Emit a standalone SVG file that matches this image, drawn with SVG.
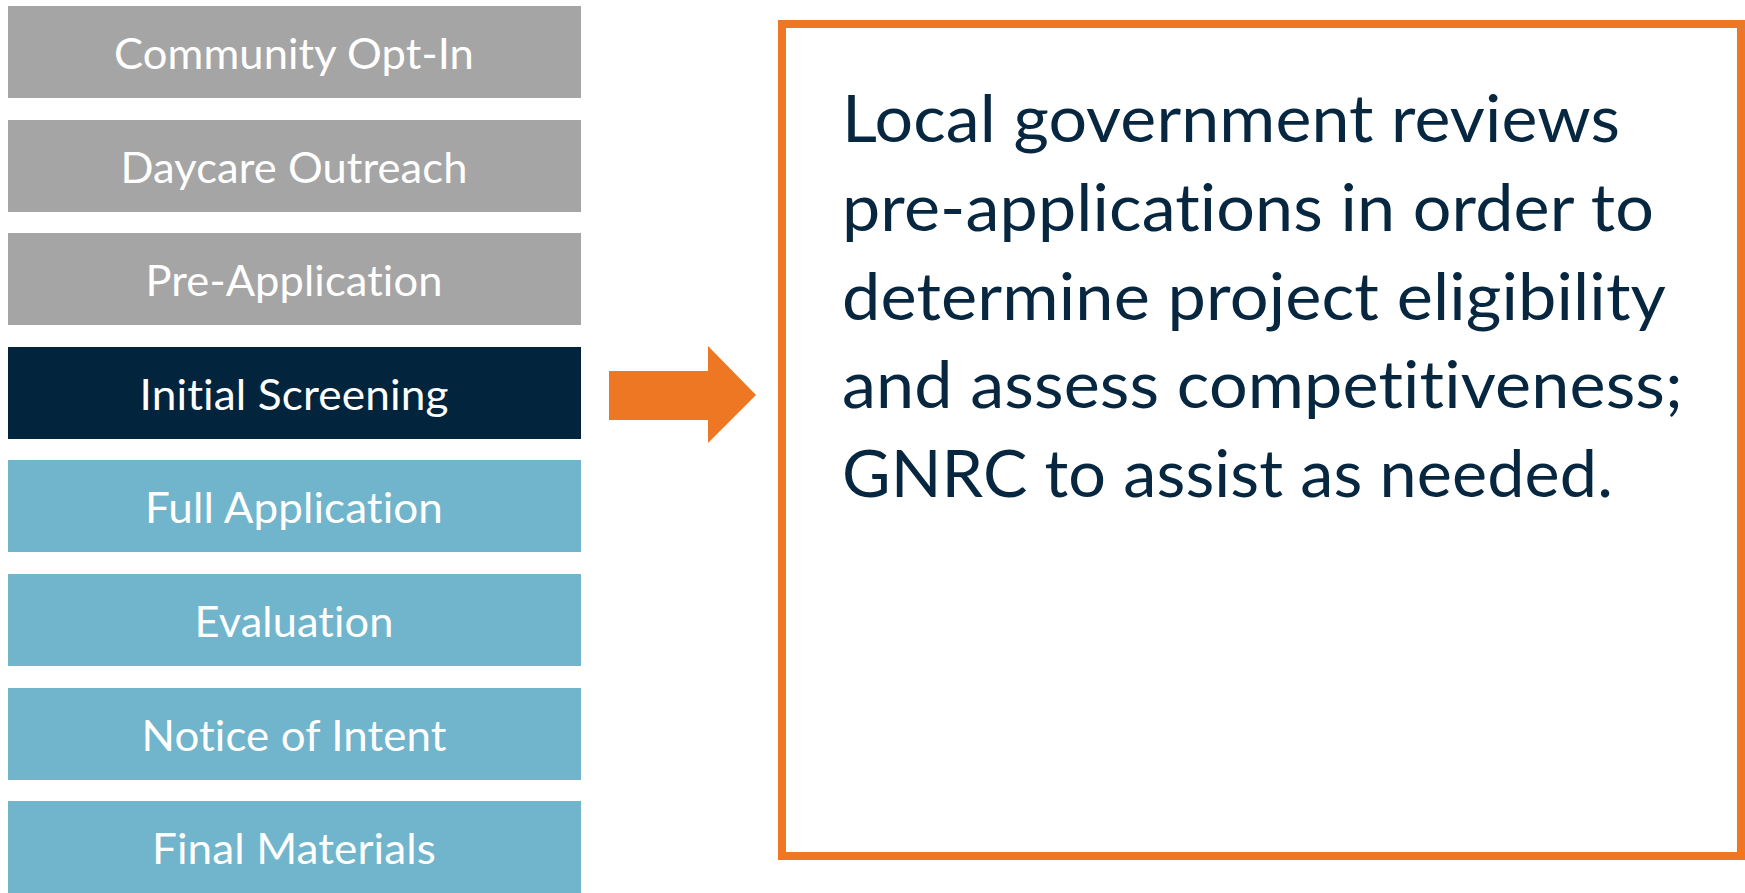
<svg xmlns="http://www.w3.org/2000/svg" width="1745" height="893" viewBox="0 0 1745 893">
<style>
text{font-variant-ligatures:none;font-feature-settings:"liga" 0,"clig" 0,"dlig" 0;letter-spacing:0.1px}
.lbl{font-family:Lato,"Open Sans","Liberation Sans",sans-serif;font-size:43px;fill:#ffffff;text-anchor:middle}
.gray{fill:#A5A5A5}
.navy{fill:#02253D}
.aqua{fill:#70B5CC}
.desc{font-family:Lato,"Open Sans","Liberation Sans",sans-serif;font-size:65px;fill:#06273F}
</style>
<rect width="1745" height="893" fill="#ffffff"/>
<g id="step1"><rect class="gray" x="8" y="6" width="573" height="92"/><text class="lbl" x="294" y="69" textLength="360" lengthAdjust="spacingAndGlyphs">Community Opt-In</text></g>
<g id="step2"><rect class="gray" x="8" y="120" width="573" height="92"/><text class="lbl" x="294" y="183" textLength="347" lengthAdjust="spacingAndGlyphs">Daycare Outreach</text></g>
<g id="step3"><rect class="gray" x="8" y="233" width="573" height="92"/><text class="lbl" x="294" y="296" textLength="297" lengthAdjust="spacingAndGlyphs">Pre-Application</text></g>
<g id="step4"><rect class="navy" x="8" y="347" width="573" height="92"/><text class="lbl" x="294" y="410" textLength="309" lengthAdjust="spacingAndGlyphs">Initial Screening</text></g>
<g id="step5"><rect class="aqua" x="8" y="460" width="573" height="92"/><text class="lbl" x="294" y="523" textLength="298" lengthAdjust="spacingAndGlyphs">Full Application</text></g>
<g id="step6"><rect class="aqua" x="8" y="574" width="573" height="92"/><text class="lbl" x="294" y="637" textLength="199" lengthAdjust="spacingAndGlyphs">Evaluation</text></g>
<g id="step7"><rect class="aqua" x="8" y="688" width="573" height="92"/><text class="lbl" x="294" y="751" textLength="305" lengthAdjust="spacingAndGlyphs">Notice of Intent</text></g>
<g id="step8"><rect class="aqua" x="8" y="801" width="573" height="92"/><text class="lbl" x="294" y="864" textLength="284" lengthAdjust="spacingAndGlyphs">Final Materials</text></g>
<g id="connectors">
<polygon points="609,371 708,371 708,346 756,395 708,443 708,420 609,420" fill="#EE7724"/>
</g>
<g id="detail">
<rect x="782" y="24" width="959" height="832" fill="#ffffff" stroke="#EE7724" stroke-width="8"/>
<text class="desc" x="842" y="142" textLength="778" lengthAdjust="spacingAndGlyphs">Local government reviews</text>
<text class="desc" x="842" y="231" textLength="812" lengthAdjust="spacingAndGlyphs">pre-applications in order to</text>
<text class="desc" x="842" y="320" textLength="824" lengthAdjust="spacingAndGlyphs">determine project eligibility</text>
<text class="desc" x="842" y="408" textLength="841" lengthAdjust="spacingAndGlyphs">and assess competitiveness;</text>
<text class="desc" x="842" y="497" textLength="771" lengthAdjust="spacingAndGlyphs">GNRC to assist as needed.</text>
</g>
</svg>
